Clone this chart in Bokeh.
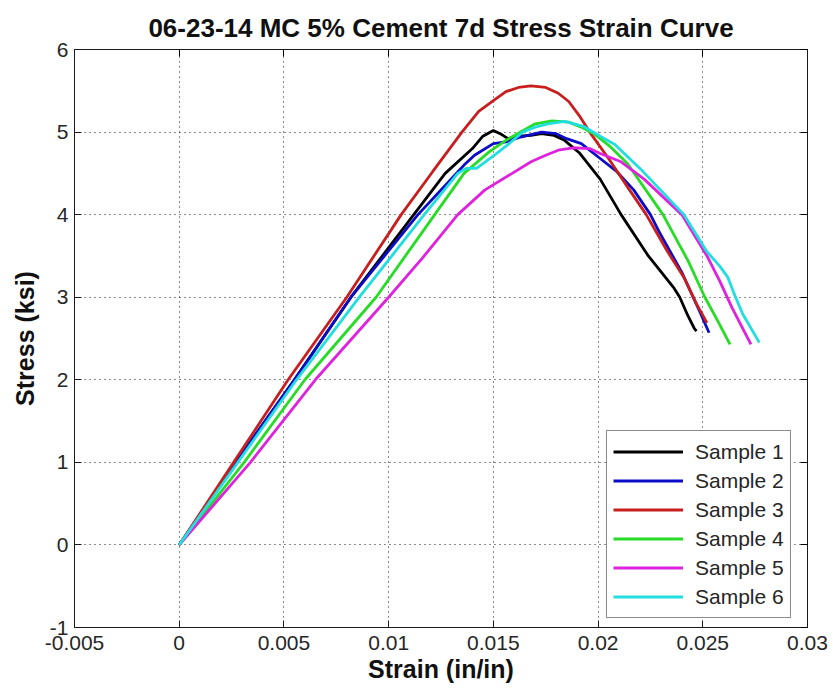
from bokeh.plotting import figure
from bokeh.models import Range1d, FixedTicker, LinearAxis, Legend, LegendItem
from bokeh.embed import file_html
from bokeh.resources import INLINE

title_text = "06-23-14 MC 5% Cement 7d Stress Strain Curve"
x_label = "Strain (in/in)"
y_label = "Stress (ksi)"

x_ticks = [-0.005, 0, 0.005, 0.01, 0.015, 0.02, 0.025, 0.03]
x_tick_labels = ["-0.005", "0", "0.005", "0.01", "0.015", "0.02", "0.025", "0.03"]
y_ticks = [-1, 0, 1, 2, 3, 4, 5, 6]
y_tick_labels = ["-1", "0", "1", "2", "3", "4", "5", "6"]

series_names = ["Sample 1", "Sample 2", "Sample 3", "Sample 4", "Sample 5", "Sample 6"]
series_colors = ["#000000", "#0c0cc8", "#c81e1e", "#26dc26", "#de22de", "#22dede"]

s1_strain = [0, 0.0027, 0.0055, 0.0082, 0.0112, 0.0127, 0.0140, 0.0145, 0.0150, 0.0154, 0.0157,
             0.0162, 0.0168, 0.0173, 0.0179, 0.0184, 0.0191, 0.0201, 0.0211, 0.0224, 0.0236,
             0.0239, 0.0243, 0.0246, 0.0247]
s1_stress = [0, 1.0, 2.0, 3.0, 4.0, 4.5, 4.8, 4.95, 5.02, 4.97, 4.92,
             4.95, 4.96, 4.98, 4.96, 4.90, 4.75, 4.43, 4.0, 3.5, 3.12,
             3.0, 2.77, 2.62, 2.59]

s2_strain = [0, 0.0027, 0.0055, 0.0082, 0.0114, 0.0128, 0.0136, 0.0141, 0.0150, 0.0156, 0.0163,
             0.0168, 0.0173, 0.0180, 0.0185, 0.0192, 0.0201, 0.0209, 0.0217, 0.0225, 0.0229,
             0.0240, 0.0249, 0.0253]
s2_stress = [0, 1.0, 2.0, 3.0, 4.0, 4.38, 4.6, 4.72, 4.86, 4.88, 4.94,
             4.97, 5.0, 4.98, 4.92, 4.86, 4.68, 4.52, 4.3, 4.0, 3.8,
             3.3, 2.8, 2.57]

s3_strain = [0, 0.0026, 0.0052, 0.0080, 0.0106, 0.0121, 0.0135, 0.0143, 0.0150, 0.0156, 0.0162,
             0.0168, 0.0175, 0.0181, 0.0186, 0.0191, 0.0196, 0.0205, 0.0215, 0.0223, 0.0233,
             0.0241, 0.0247, 0.0252]
s3_stress = [0, 1.0, 2.0, 3.0, 4.0, 4.52, 5.0, 5.25, 5.38, 5.49, 5.54,
             5.56, 5.54, 5.47, 5.37, 5.2, 5.0, 4.68, 4.3, 4.0, 3.56,
             3.24, 2.92, 2.69]

s4_strain = [0, 0.0031, 0.0060, 0.0094, 0.0122, 0.0136, 0.0148, 0.0156, 0.0163, 0.0170, 0.0178,
             0.0186, 0.0192, 0.0198, 0.0206, 0.0214, 0.0231, 0.0243, 0.0251, 0.0257, 0.0263]
s4_stress = [0, 1.0, 2.0, 3.0, 4.0, 4.5, 4.76, 4.9, 5.0, 5.1, 5.135,
             5.12, 5.06, 4.98, 4.82, 4.62, 4.0, 3.44, 3.0, 2.72, 2.43]

s5_strain = [0, 0.0034, 0.0065, 0.0100, 0.0116, 0.0133, 0.0146, 0.0159, 0.0168, 0.0175, 0.0181,
             0.0188, 0.0196, 0.0201, 0.0211, 0.0222, 0.0240, 0.0252, 0.0258, 0.0264, 0.0273]
s5_stress = [0, 1.0, 2.0, 3.0, 3.47, 4.0, 4.3, 4.5, 4.64, 4.72, 4.78,
             4.81, 4.80, 4.74, 4.64, 4.43, 4.0, 3.5, 3.2, 2.87, 2.43]

s6_strain = [0, 0.0028, 0.0056, 0.0086, 0.0117, 0.0133, 0.0137, 0.0142, 0.0151, 0.0158, 0.0164,
             0.0170, 0.0176, 0.0184, 0.0193, 0.0201, 0.0208, 0.0220, 0.0241, 0.0252, 0.0258,
             0.0262, 0.0265, 0.0269, 0.0277]
s6_stress = [0, 1.0, 2.0, 3.0, 4.0, 4.5, 4.56, 4.56, 4.73, 4.87, 5.0,
             5.06, 5.1, 5.13, 5.07, 4.95, 4.85, 4.56, 4.0, 3.55, 3.38,
             3.24, 3.04, 2.80, 2.45]

strains = [s1_strain, s2_strain, s3_strain, s4_strain, s5_strain, s6_strain]
stresses = [s1_stress, s2_stress, s3_stress, s4_stress, s5_stress, s6_stress]

FONT = "Liberation Sans"

p = figure(frame_width=733, frame_height=578,
           min_border_left=74, min_border_right=26, min_border_top=49, min_border_bottom=63,
           x_range=Range1d(-0.005, 0.03), y_range=Range1d(-1, 6),
           output_backend="svg", toolbar_location=None, title=title_text)
p.background_fill_color = "white"
p.border_fill_color = "white"
p.outline_line_color = "#1a1a1a"
p.outline_line_width = 1

p.title.text_font = FONT
p.title.text_font_size = "26px"
p.title.text_font_style = "bold"
p.title.align = "center"
p.title.vertical_align = "top"
p.title.text_color = "#111111"

xt = FixedTicker(ticks=x_ticks)
yt = FixedTicker(ticks=y_ticks)

for ax, t, labs in ((p.xaxis[0], xt, x_tick_labels), (p.yaxis[0], yt, y_tick_labels)):
    ax.ticker = t
    ax.major_label_overrides = {v: s for v, s in zip(t.ticks, labs)}
    ax.major_label_text_font = FONT
    ax.major_label_text_font_size = "21px"
    ax.major_label_text_color = "#262626"
    ax.axis_label_text_font = FONT
    ax.axis_label_text_font_size = "25px"
    ax.axis_label_text_font_style = "bold"
    ax.axis_label_text_color = "#111111"
    ax.major_tick_in = 7
    ax.major_tick_out = 0
    ax.minor_tick_line_color = None
    ax.axis_line_color = "#1a1a1a"
    ax.major_tick_line_color = "#1a1a1a"

p.xaxis[0].axis_label = x_label
p.yaxis[0].axis_label = y_label
p.xaxis[0].major_label_standoff = 8
p.xaxis[0].axis_label_standoff = 2
p.yaxis[0].major_label_standoff = 6
p.yaxis[0].axis_label_standoff = 8

# frame-box axes on top and right: inward ticks only, no labels
top_ax = LinearAxis(ticker=FixedTicker(ticks=x_ticks), major_label_text_font_size="1px",
                    major_label_text_color=None, major_label_standoff=0,
                    major_tick_in=7, major_tick_out=0,
                    minor_tick_line_color=None, axis_line_color="#1a1a1a")
right_ax = LinearAxis(ticker=FixedTicker(ticks=y_ticks), major_label_text_font_size="1px",
                      major_label_text_color=None, major_label_standoff=0,
                      major_tick_in=7, major_tick_out=0,
                      minor_tick_line_color=None, axis_line_color="#1a1a1a")
p.add_layout(top_ax, "above")
p.add_layout(right_ax, "right")

p.xgrid.ticker = xt
p.ygrid.ticker = yt
for g in (p.xgrid[0], p.ygrid[0]):
    g.grid_line_color = "#000000"
    g.grid_line_dash = "1 4"
    g.grid_line_width = 1
    g.grid_line_alpha = 0.9

items = []
for name, col, xs, ys in zip(series_names, series_colors, strains, stresses):
    r = p.line(xs, ys, line_color=col, line_width=2.8)
    items.append(LegendItem(label=name, renderers=[r]))

legend = Legend(items=items, location=(532, 9))
legend.label_text_font = FONT
legend.label_text_font_size = "21px"
legend.label_text_color = "#262626"
legend.glyph_width = 70
legend.glyph_height = 29
legend.label_height = 29
legend.label_standoff = 12
legend.padding = 6
legend.spacing = 0
legend.margin = 0
legend.border_line_color = "#1a1a1a"
legend.border_line_width = 1
legend.background_fill_color = "white"
legend.background_fill_alpha = 1
p.add_layout(legend)

open("out.html", "w").write(file_html(p, INLINE))
